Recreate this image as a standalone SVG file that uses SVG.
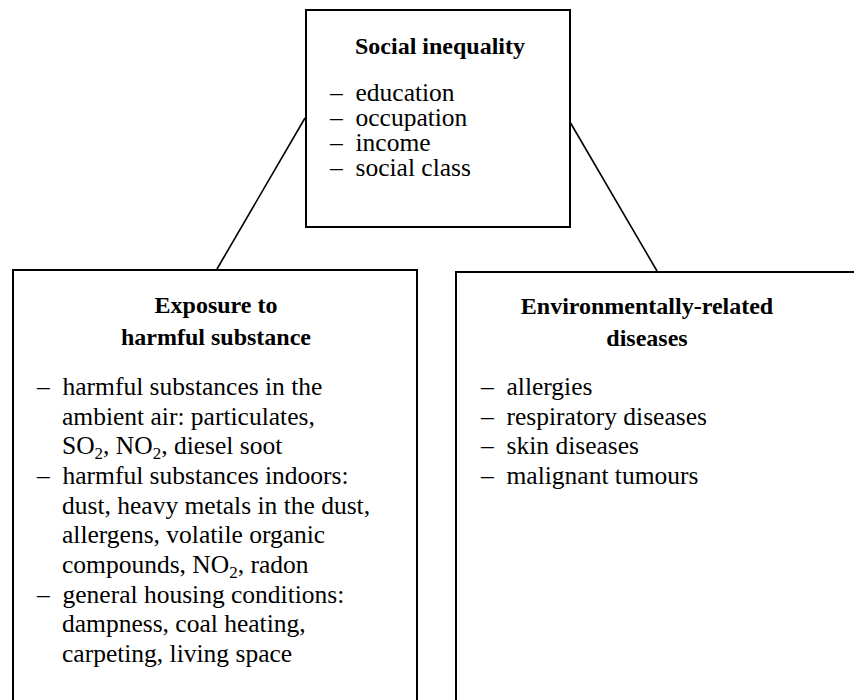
<svg xmlns="http://www.w3.org/2000/svg" width="854" height="700" viewBox="0 0 854 700">
<style>
.box{fill:none;stroke:#000;stroke-width:2}
.conn{stroke:#000;stroke-width:1.6;fill:none}
.t{font-family:"Liberation Serif","Times New Roman",serif;font-size:24px;font-weight:bold;fill:#000;text-anchor:middle}
.b{font-family:"Liberation Serif","Times New Roman",serif;font-size:25.5px;fill:#000}
.s{font-size:17px}
</style>
<rect width="854" height="700" fill="#fff"/>
<g id="connectors">
<line class="conn" x1="305" y1="118" x2="217" y2="269"/>
<line class="conn" x1="570" y1="122" x2="657" y2="271"/>
</g>
<g id="social-inequality">
<rect class="box" x="306" y="10" width="264" height="217"/>
<text class="t" x="440" y="54">Social inequality</text>
<text class="b" x="330" y="101">–&#160;&#160;education</text>
<text class="b" x="330" y="126">–&#160;&#160;occupation</text>
<text class="b" x="330" y="151">–&#160;&#160;income</text>
<text class="b" x="330" y="176">–&#160;&#160;social class</text>
</g>
<g id="exposure">
<rect class="box" x="13" y="270" width="404" height="450"/>
<text class="t" x="216" y="313">Exposure to</text>
<text class="t" x="216" y="345">harmful substance</text>
<text class="b" x="37" y="395">–&#160;&#160;harmful substances in the</text>
<text class="b" x="62" y="425">ambient air: particulates,</text>
<text class="b" x="62" y="454">SO<tspan class="s" dy="5">2</tspan><tspan dy="-5">, NO</tspan><tspan class="s" dy="5">2</tspan><tspan dy="-5">, diesel soot</tspan></text>
<text class="b" x="37" y="484">–&#160;&#160;harmful substances indoors:</text>
<text class="b" x="62" y="514">dust, heavy metals in the dust,</text>
<text class="b" x="62" y="543">allergens, volatile organic</text>
<text class="b" x="62" y="573">compounds, NO<tspan class="s" dy="5">2</tspan><tspan dy="-5">, radon</tspan></text>
<text class="b" x="37" y="603">–&#160;&#160;general housing conditions:</text>
<text class="b" x="62" y="632">dampness, coal heating,</text>
<text class="b" x="62" y="662">carpeting, living space</text>
</g>
<g id="diseases">
<rect class="box" x="456" y="272" width="410" height="450"/>
<text class="t" x="647" y="314">Environmentally-related</text>
<text class="t" x="647" y="346">diseases</text>
<text class="b" x="481" y="395">–&#160;&#160;allergies</text>
<text class="b" x="481" y="425">–&#160;&#160;respiratory diseases</text>
<text class="b" x="481" y="454">–&#160;&#160;skin diseases</text>
<text class="b" x="481" y="484">–&#160;&#160;malignant tumours</text>
</g>
</svg>
